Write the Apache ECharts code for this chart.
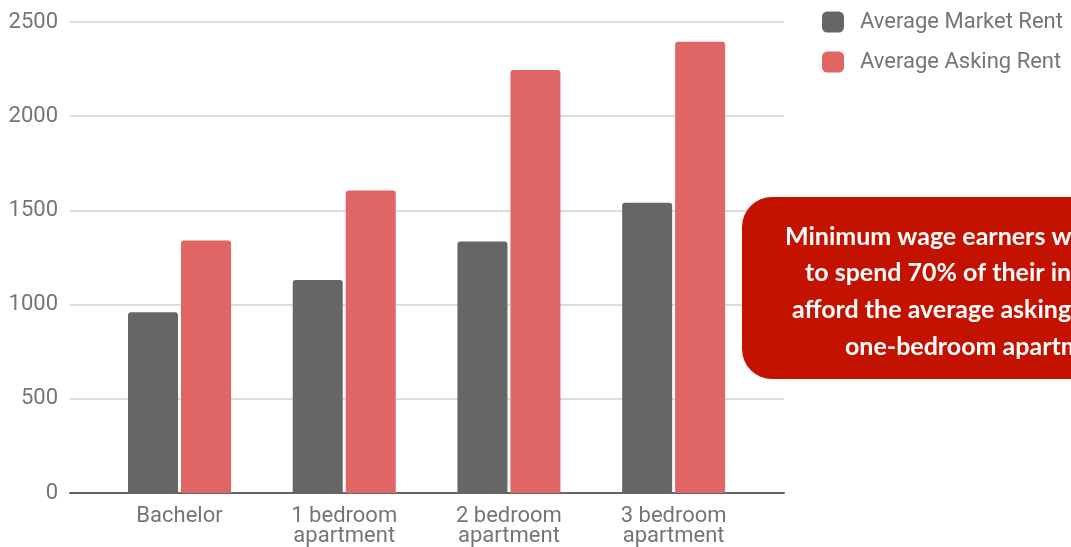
<!DOCTYPE html>
<html>
<head>
<meta charset="utf-8" />
<script src="https://cdn.jsdelivr.net/npm/echarts@6/dist/echarts.min.js"></script>
<style>
  html, body { margin: 0; padding: 0; background: #fff; }
  #main { width: 1071px; height: 547px; }
</style>
</head>
<body>
<div id="main"></div>
<script>
// data
const categories = ["Bachelor", "1 bedroom\napartment", "2 bedroom\napartment", "3 bedroom\napartment"];
const marketRent = [960, 1130, 1335, 1540];
const askingRent = [1340, 1605, 2245, 2395];
const yTicks = [0, 500, 1000, 1500, 2000, 2500];
const noteLines = [
  "Minimum wage earners would have",
  "to spend 70% of their income to",
  "afford the average asking rent for a",
  "one-bedroom apartment",
];

const labelColor = "#757575";
const font = "Roboto";

// category index -> [index, value] so the x axis can be a value axis with padding
const toPoints = (arr) => arr.map((v, i) => [i, v]);

const noteX = [785, 805, 792, 845];
const noteY = [237, 273, 310, 347];

const option = {
  backgroundColor: "#ffffff",
  animation: false,
  grid: {
    left: 70,
    right: 287,
    top: 22,
    bottom: 52.5,
  },
  legend: {
    orient: "vertical",
    left: 822,
    top: 11,
    padding: 0,
    itemWidth: 22,
    itemHeight: 21,
    itemGap: 18,
    icon: "roundRect",
    textStyle: {
      color: labelColor,
      fontSize: 22,
      lineHeight: 21,
      fontFamily: font,
      padding: [0, 0, 0, 11],
    },
    data: ["Average Market Rent", "Average Asking Rent"],
  },
  xAxis: {
    type: "value",
    min: -0.665,
    max: 3.67,
    splitLine: { show: false },
    axisTick: { show: false },
    axisLine: {
      show: true,
      onZero: false,
      lineStyle: { color: "#666666", width: 2 },
    },
    axisLabel: {
      customValues: [0, 1, 2, 3],
      formatter: (v) => categories[Math.round(v)] || "",
      color: labelColor,
      fontSize: 22,
      lineHeight: 20,
      fontFamily: font,
      margin: 13,
    },
  },
  yAxis: {
    type: "value",
    min: yTicks[0],
    max: yTicks[yTicks.length - 1],
    interval: 500,
    axisLine: { show: false },
    axisTick: { show: false },
    splitLine: {
      lineStyle: { color: "#d0d0d0", width: 1.5 },
    },
    axisLabel: {
      formatter: (v) => String(v), // no thousands separator
      color: labelColor,
      fontSize: 22,
      fontFamily: font,
      margin: 12,
    },
  },
  series: [
    {
      name: "Average Market Rent",
      type: "bar",
      barWidth: 50,
      barGap: "6%",
      itemStyle: { color: "#666666", borderRadius: [3, 3, 0, 0] },
      data: toPoints(marketRent),
    },
    {
      name: "Average Asking Rent",
      type: "bar",
      barWidth: 50,
      barGap: "6%",
      itemStyle: { color: "#e06666", borderRadius: [3, 3, 0, 0] },
      data: toPoints(askingRent),
    },
  ],
  graphic: [
    {
      type: "rect",
      shape: { x: 742, y: 197, width: 420, height: 182, r: 30 },
      style: { fill: "#c41200" },
      z: 10,
    },
    ...noteLines.map((t, i) => ({
      type: "text",
      x: noteX[i],
      y: noteY[i],
      z: 11,
      style: {
        text: t,
        fill: "#ffffff",
        font: "bold 25px Lato",
        verticalAlign: "middle",
        align: "left",
      },
    })),
  ],
};

const chart = echarts.init(document.getElementById("main"), null, { renderer: "canvas" });
chart.setOption(option);
</script>
</body>
</html>
